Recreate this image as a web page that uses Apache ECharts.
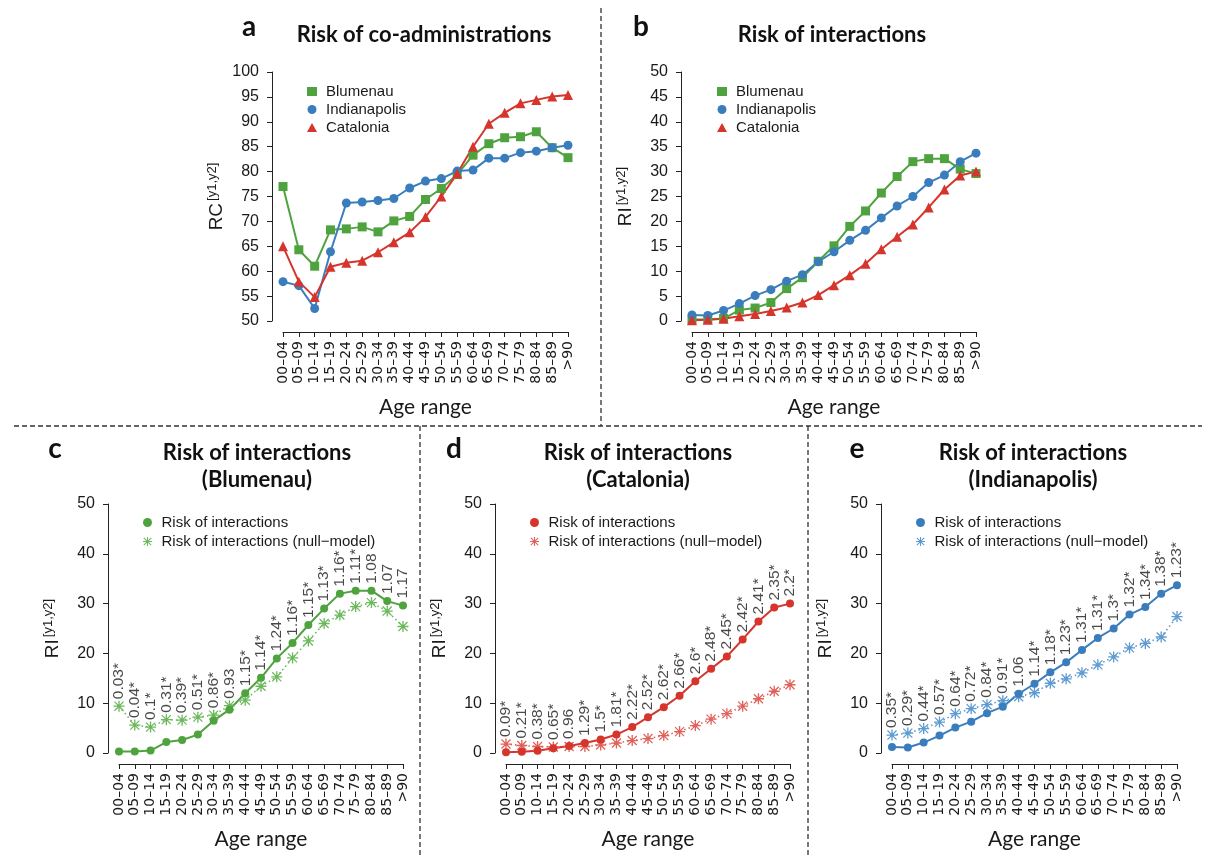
<!DOCTYPE html>
<html><head><meta charset="utf-8">
<script src="https://cdn.jsdelivr.net/npm/echarts@6/dist/echarts.min.js"></script>
<style>html,body{margin:0;padding:0;background:#fff}#c{width:1208px;height:857px}</style>
</head><body><div id="c"></div><script>
// ---------- data ----------
const ageRanges = ['00–04','05–09','10–14','15–19','20–24','25–29','30–34','35–39','40–44','45–49','50–54','55–59','60–64','65–69','70–74','75–79','80–84','85–89','>90'];

const coadminBlumenau     = [77.0, 64.3, 61.0, 68.3, 68.5, 68.9, 67.9, 70.1, 71.0, 74.4, 76.6, 79.4, 83.3, 85.6, 86.8, 87.0, 88.0, 84.8, 82.8];
const coadminIndianapolis = [57.9, 57.1, 52.5, 63.9, 73.7, 73.9, 74.2, 74.6, 76.7, 78.1, 78.6, 80.1, 80.3, 82.7, 82.7, 83.8, 84.1, 84.8, 85.3];
const coadminCatalonia    = [65.0, 57.9, 54.8, 60.9, 61.7, 62.1, 63.8, 65.8, 67.8, 70.9, 75.0, 79.6, 85.0, 89.6, 91.8, 93.7, 94.4, 95.1, 95.4];

const interBlumenau     = [0.3, 0.3, 0.5, 2.2, 2.6, 3.7, 6.5, 8.7, 12.0, 15.1, 19.0, 22.1, 25.7, 29.0, 32.0, 32.6, 32.6, 30.5, 29.6];
const interIndianapolis = [1.2, 1.1, 2.1, 3.5, 5.1, 6.3, 8.0, 9.3, 11.9, 13.9, 16.2, 18.2, 20.7, 23.1, 25.0, 27.8, 29.3, 32.0, 33.7];
const interCatalonia    = [0.15, 0.25, 0.45, 0.95, 1.4, 2.0, 2.7, 3.7, 5.2, 7.2, 9.2, 11.5, 14.4, 16.9, 19.4, 22.8, 26.4, 29.2, 30.0];

const nullBlumenau     = [9.4, 5.6, 5.2, 6.7, 6.6, 7.2, 7.6, 9.5, 10.6, 13.4, 15.3, 19.1, 22.5, 26.0, 27.7, 29.4, 30.2, 28.5, 25.4];
const nullCatalonia    = [1.8, 1.5, 1.3, 1.2, 1.3, 1.3, 1.6, 2.0, 2.5, 2.9, 3.5, 4.3, 5.5, 6.8, 7.9, 9.4, 10.9, 12.4, 13.7];
const nullIndianapolis = [3.6, 4.0, 4.9, 6.2, 7.9, 8.9, 9.7, 10.5, 11.3, 12.1, 14.0, 14.9, 16.1, 17.7, 19.3, 21.1, 22.0, 23.3, 27.4];

const ratioBlumenau     = ['0.03*','0.04*','0.1*','0.31*','0.39*','0.51*','0.86*','0.93','1.15*','1.14*','1.24*','1.16*','1.15*','1.13*','1.16*','1.11*','1.08','1.07','1.17'];
const ratioCatalonia    = ['0.09*','0.21*','0.38*','0.65*','0.96','1.29*','1.5*','1.81*','2.22*','2.52*','2.62*','2.66*','2.6*','2.48*','2.45*','2.42*','2.41*','2.35*','2.2*'];
const ratioIndianapolis = ['0.35*','0.29*','0.44*','0.57*','0.64*','0.72*','0.84*','0.91*','1.06','1.14*','1.18*','1.23*','1.31*','1.31*','1.3*','1.32*','1.34*','1.38*','1.23*'];

// ---------- style ----------
const GREEN = '#4fa33f', BLUE = '#3a7dbd', RED = '#d5352c';
const GREEN_L = '#6cb85c', BLUE_L = '#5c9ad0', RED_L = '#e0615a';
const STAR = 'path://M4.4,0H5.6V10H4.4Z M0,4.4H10V5.6H0Z M1.3,0.5L9.5,8.7L8.7,9.5L0.5,1.3Z M8.7,0.5L9.5,1.3L1.3,9.5L0.5,8.7Z';
const TXT = '#1a1a1a';
const SANS = 'Liberation Sans';

const grids = [
  {left: 283, top: 72, width: 285, height: 249},
  {left: 692, top: 72, width: 284, height: 249},
  {left: 119, top: 504, width: 284, height: 249},
  {left: 506, top: 504, width: 284, height: 249},
  {left: 892, top: 504, width: 285, height: 249}
];
const yRanges = [[50,100,5],[0,50,5],[0,50,10],[0,50,10],[0,50,10]];
const yNames = ['RC','RI','RI','RI','RI'];

const xAxes = grids.map((g, i) => ({
  gridIndex: i, type: 'category', data: ageRanges, boundaryGap: false, offset: 11,
  axisLine: {show: true, onZero: false, lineStyle: {color: '#222', width: 1}},
  axisTick: {show: true, length: 5, lineStyle: {color: '#222'}},
  axisLabel: {rotate: 90, interval: 0, fontSize: 14, fontFamily: 'DejaVu Sans', color: TXT, margin: 9},
  splitLine: {show: false},
  name: 'Age range', nameLocation: 'middle', nameGap: 65,
  nameTextStyle: {fontSize: 21, fontFamily: 'Lato', color: TXT}
}));
const yAxes = grids.map((g, i) => ({
  gridIndex: i, type: 'value', min: yRanges[i][0], max: yRanges[i][1], interval: yRanges[i][2], offset: 11,
  axisLine: {show: true, onZero: false, lineStyle: {color: '#222', width: 1}},
  axisTick: {show: true, length: 5, lineStyle: {color: '#222'}},
  axisLabel: {fontSize: 16, fontFamily: SANS, color: TXT, margin: 13},
  splitLine: {show: false},
  name: '{m|' + yNames[i] + '}{s|[y1,y2]}', nameLocation: 'middle', nameGap: 44,
  nameTextStyle: {rich: {
    m: {fontSize: 19, fontFamily: SANS, color: TXT, lineHeight: 22},
    s: {fontSize: 13, fontFamily: SANS, color: TXT, lineHeight: 14, verticalAlign: 'top', padding: [0,0,0,2]}
  }}
}));

function lineSeries(name, data, idx, color, symbol, size, dotted) {
  return {
    name, type: 'line', data, xAxisIndex: idx, yAxisIndex: idx,
    symbol, symbolSize: size, showSymbol: true, silent: true,
    itemStyle: {color},
    lineStyle: dotted ? {color, width: 1.6, type: [1.5, 3]} : {color, width: 2}
  };
}
function ratioSeries(name, a, b, labels, idx) {
  return {
    name, type: 'scatter', xAxisIndex: idx, yAxisIndex: idx, silent: true,
    symbolSize: 0, data: a.map((v, k) => Math.max(v, b[k])),
    label: {show: true, position: 'top', distance: 7, rotate: 90, align: 'left', verticalAlign: 'middle',
      fontSize: 15.5, fontFamily: SANS, color: TXT,
      formatter: p => labels[p.dataIndex]}
  };
}

const series = [
  lineSeries('aB', coadminBlumenau, 0, GREEN, 'rect', 9),
  lineSeries('aI', coadminIndianapolis, 0, BLUE, 'circle', 9),
  lineSeries('aC', coadminCatalonia, 0, RED, 'triangle', 10),
  lineSeries('bB', interBlumenau, 1, GREEN, 'rect', 9),
  lineSeries('bI', interIndianapolis, 1, BLUE, 'circle', 9),
  lineSeries('bC', interCatalonia, 1, RED, 'triangle', 10),
  lineSeries('cN', nullBlumenau, 2, GREEN_L, STAR, 11, true),
  lineSeries('cR', interBlumenau, 2, GREEN, 'circle', 8),
  ratioSeries('cL', interBlumenau, nullBlumenau, ratioBlumenau, 2),
  lineSeries('dN', nullCatalonia, 3, RED_L, STAR, 11, true),
  lineSeries('dR', interCatalonia, 3, RED, 'circle', 8),
  ratioSeries('dL', interCatalonia, nullCatalonia, ratioCatalonia, 3),
  lineSeries('eN', nullIndianapolis, 4, BLUE_L, STAR, 11, true),
  lineSeries('eR', interIndianapolis, 4, BLUE, 'circle', 8),
  ratioSeries('eL', interIndianapolis, nullIndianapolis, ratioIndianapolis, 4)
];

const legendNames = {
  aB: 'Blumenau', aI: 'Indianapolis', aC: 'Catalonia',
  bB: 'Blumenau', bI: 'Indianapolis', bC: 'Catalonia',
  cR: 'Risk of interactions', cN: 'Risk of interactions (null\u2212model)',
  dR: 'Risk of interactions', dN: 'Risk of interactions (null\u2212model)',
  eR: 'Risk of interactions', eN: 'Risk of interactions (null\u2212model)'
};
function legend(left, top, items, gap) {
  return {
    orient: 'vertical', left, top, itemWidth: 10, itemHeight: 9, itemGap: gap,
    selectedMode: false, padding: 0,
    data: items.map(([name, icon]) => ({name, icon})),
    formatter: n => legendNames[n],
    textStyle: {fontSize: 15, fontFamily: SANS, color: TXT, padding: [0,0,0,4]}
  };
}
const legends = [
  legend(307, 84, [['aB','rect'],['aI','circle'],['aC','triangle']], 3),
  legend(717, 84, [['bB','rect'],['bI','circle'],['bC','triangle']], 3),
  legend(143, 515, [['cR','circle'],['cN',STAR]], 4),
  legend(530, 515, [['dR','circle'],['dN',STAR]], 4),
  legend(916, 515, [['eR','circle'],['eN',STAR]], 4)
];

function ttl(text, left, top, size, lh) {
  return {text, left, top, textAlign: 'center', padding: 0,
    textStyle: {fontSize: size, fontWeight: 'bold', fontFamily: 'Lato', color: '#111', lineHeight: lh || size}};
}
const titles = [
  ttl('a', 249, 13, 28), ttl('Risk of co-administrations', 424, 24, 22),
  ttl('b', 641, 13, 28), ttl('Risk of interactions', 832, 24, 22),
  ttl('c', 55, 435, 28), ttl('Risk of interactions\n(Blumenau)', 257, 439, 22, 27),
  ttl('d', 454, 435, 28), ttl('Risk of interactions\n(Catalonia)', 638, 439, 22, 27),
  ttl('e', 857, 435, 28), ttl('Risk of interactions\n(Indianapolis)', 1033, 439, 22, 27)
];

const dash = {stroke: '#333', lineWidth: 1.3, lineDash: [5, 3]};
const graphic = [
  {type: 'line', shape: {x1: 14, y1: 426, x2: 1202, y2: 426}, style: dash, silent: true},
  {type: 'line', shape: {x1: 601, y1: 8, x2: 601, y2: 426}, style: dash, silent: true},
  {type: 'line', shape: {x1: 420, y1: 426, x2: 420, y2: 857}, style: dash, silent: true},
  {type: 'line', shape: {x1: 808, y1: 426, x2: 808, y2: 857}, style: dash, silent: true}
];

const chart = echarts.init(document.getElementById('c'), null, {renderer: 'canvas'});
chart.setOption({
  animation: false, backgroundColor: '#fff',
  title: titles, grid: grids, xAxis: xAxes, yAxis: yAxes,
  legend: legends, series, graphic
});
</script></body></html>
